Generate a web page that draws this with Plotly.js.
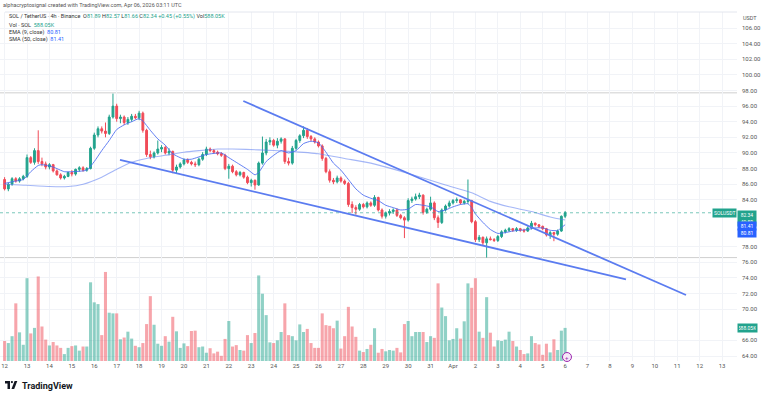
<!DOCTYPE html>
<html>
<head>
<meta charset="utf-8">
<script src="https://cdn.plot.ly/plotly-3.0.1.min.js"></script>
<style>html,body{margin:0;padding:0;background:#fff;}#chart{width:768px;height:398px;}</style>
</head>
<body>
<div id="chart"></div>
<script>
// ---------- DATA (4h candles, SOL/USDT, from Mar 12 00:00 UTC) ----------
const OPEN = [86.6,85.4,86.0,86.7,86.4,86.7,87.0,89.4,88.8,90.3,88.9,88.6,88.2,88.5,87.7,87.2,86.8,87.0,87.5,87.3,87.9,88.1,87.8,88.0,90.6,92.3,93.1,92.8,92.5,94.6,96.0,94.4,94.6,93.9,94.3,94.7,94.5,95.1,92.9,89.8,89.5,90.0,90.5,90.7,90.0,90.2,87.8,88.2,88.6,89.1,88.8,88.6,88.5,89.2,89.8,90.5,90.3,90.1,89.9,89.7,88.0,88.3,87.6,87.2,87.5,86.9,86.2,86.5,85.9,88.7,90.0,91.4,91.6,91.0,91.5,91.8,88.9,88.7,90.6,91.6,92.2,92.9,92.1,91.8,91.4,90.9,89.3,87.6,86.5,86.3,86.8,86.4,86.1,83.4,83.0,82.8,83.4,83.1,83.6,83.3,84.3,82.7,81.9,82.3,82.5,82.7,82.0,81.7,81.4,83.9,84.1,84.4,84.6,82.4,82.8,83.6,81.7,81.1,82.7,83.2,83.6,83.9,84.0,83.6,83.8,83.9,81.2,78.9,79.2,78.5,79.0,78.9,78.8,79.3,79.9,80.1,80.3,80.1,80.3,80.1,80.0,80.4,81.0,80.8,80.6,80.3,79.5,79.8,79.6,80.0,81.89];
const HIGH = [86.9,86.2,86.9,86.9,86.9,87.2,89.8,89.6,90.6,92.9,89.4,88.9,88.7,88.6,87.9,87.4,87.2,87.6,87.8,88.0,88.3,88.3,88.2,90.8,92.6,93.4,93.4,93.9,94.9,97.6,96.3,94.9,94.8,94.6,95.0,95.0,95.4,95.3,93.1,90.3,90.2,91.6,91.0,90.9,90.6,90.3,88.5,88.8,89.3,89.3,89.0,88.9,89.4,90.1,90.8,90.7,90.5,90.3,90.1,89.9,88.6,88.5,87.8,87.7,87.6,87.1,86.7,86.6,88.9,92.1,91.8,92.0,91.8,91.9,92.0,91.9,89.4,90.9,91.8,92.4,93.4,93.2,92.3,92.0,91.6,91.1,89.5,87.9,86.8,87.1,87.0,86.6,86.3,83.8,83.3,83.6,83.6,83.8,83.8,84.6,84.4,82.9,82.5,82.8,82.9,82.9,82.2,81.9,84.2,84.4,84.8,84.9,84.7,83.0,84.4,83.8,82.0,82.9,83.4,83.9,84.1,84.3,84.1,84.0,86.6,84.0,81.4,79.5,79.3,79.3,79.3,79.1,79.5,80.1,80.3,80.5,80.4,80.5,80.4,80.3,80.6,81.3,81.1,80.9,80.7,80.4,80.0,79.9,80.2,82.0,82.57];
const LOW  = [85.2,85.1,85.8,86.2,86.2,86.5,86.8,88.6,88.5,88.6,88.3,87.9,87.9,87.5,87.1,86.6,86.6,86.9,87.0,87.1,87.6,87.6,87.6,87.9,90.4,92.0,92.5,92.0,92.3,94.4,94.0,93.8,93.6,93.6,94.0,94.3,94.2,92.6,89.5,89.2,89.3,89.8,90.1,89.8,89.7,87.4,87.3,88.0,88.4,88.6,88.4,88.2,88.3,89.0,89.6,90.1,89.9,89.7,89.5,87.8,86.7,87.4,87.0,87.0,86.7,86.0,85.7,85.3,85.8,88.5,89.7,91.0,90.8,90.6,91.2,88.6,88.4,88.5,90.4,91.3,91.9,91.8,91.5,91.2,90.7,89.0,87.4,86.2,86.0,86.1,86.2,85.9,83.1,82.3,82.1,82.6,82.9,82.9,83.1,83.1,82.5,81.6,81.6,82.0,82.2,81.8,81.5,79.1,81.2,83.6,83.9,84.1,82.1,82.2,82.6,81.4,80.4,80.9,82.5,83.0,83.4,83.6,83.4,83.4,83.5,81.0,78.6,78.6,78.2,76.6,78.8,78.6,78.6,79.1,79.7,79.9,79.9,79.9,79.9,79.8,79.9,80.2,80.6,80.4,80.1,79.3,79.0,78.7,79.4,79.9,81.66];
const CLOSE= [85.4,86.0,86.7,86.4,86.7,87.0,89.4,88.8,90.3,88.9,88.6,88.2,88.5,87.7,87.2,86.8,87.0,87.5,87.3,87.9,88.1,87.8,88.0,90.6,92.3,93.1,92.8,92.5,94.6,96.0,94.4,94.6,93.9,94.3,94.7,94.5,95.1,92.9,89.8,89.5,90.0,90.5,90.7,90.0,90.2,87.8,88.2,88.6,89.1,88.8,88.6,88.5,89.2,89.8,90.5,90.3,90.1,89.9,89.7,88.0,88.3,87.6,87.2,87.5,86.9,86.2,86.5,85.9,88.7,90.0,91.4,91.6,91.0,91.5,91.8,88.9,88.7,90.6,91.6,92.2,92.9,92.1,91.8,91.4,90.9,89.3,87.6,86.5,86.3,86.8,86.4,86.1,83.4,83.0,82.8,83.4,83.1,83.6,83.3,84.3,82.7,81.9,82.3,82.5,82.7,82.0,81.7,81.4,83.9,84.1,84.4,84.6,82.4,82.8,83.6,81.7,81.1,82.7,83.2,83.6,83.9,84.0,83.6,83.8,83.9,81.2,78.9,79.2,78.5,79.0,78.9,78.8,79.3,79.9,80.1,80.3,80.1,80.3,80.1,80.0,80.4,81.0,80.8,80.6,80.3,79.5,79.8,79.6,80.0,81.89,82.34];
// volume in thousands of SOL
const VOLUME_K = [355,319,441,1024,509,288,1471,490,588,1502,
613,380,276,337,276,233,123,233,264,276,
184,257,257,1398,1042,1011,460,1582,858,846,
846,386,417,521,398,270,245,319,656,1152,
644,307,270,441,343,785,527,233,313,264,
533,539,245,257,147,227,135,166,92,392,
711,257,282,196,184,460,319,497,1520,1195,
815,331,319,368,515,1024,460,441,368,650,
515,570,319,233,233,846,637,625,582,717,
221,441,962,613,429,184,159,214,288,582,
147,214,172,196,184,233,153,656,711,441,
515,515,515,337,441,411,1379,950,797,368,
392,582,398,705,1379,1300,1471,521,411,1134,
503,257,368,355,380,521,355,257,196,123,
135,441,319,294,110,307,153,386,196,539,
588.05];
// indicator readings (candle index, value)
const EMA_IDX = [0,3,5,7,9,10,13,16,18,22,24,26,28,30,32,34,36,37,39,41,43,45,48,50,54,58,60,62,65,67,68,70,72,74,76,78,80,82,84,86,88,90,92,94,96,98,100,102,104,106,108,110,112,114,116,118,120,122,124,125,126,128,130,132,134,136,138,140,142,144,146,148,149,150];
const EMA_VAL = [86.1,86.4,86.6,87.6,88.4,88.5,88.2,87.6,87.6,87.8,88.9,90.3,91.6,93.0,93.6,94.0,94.4,94.1,92.9,91.8,91.0,89.9,89.2,89.2,89.8,90.0,89.4,88.8,87.9,87.2,87.5,88.9,89.7,90.3,90.0,90.3,91.2,91.5,91.3,90.1,88.7,87.8,86.6,85.4,84.6,84.2,83.9,83.3,83.0,82.7,82.8,83.4,83.3,83.1,82.5,82.7,83.1,83.4,83.5,83.0,82.2,81.1,80.2,79.7,79.8,80.0,80.1,80.2,80.4,80.4,80.1,80.06,80.43,80.81];
const SMA_IDX = [0,4,12,17,21,26,30,34,38,43,48,52,57,61,68,76,84,91,98,105,112,118,125,130,135,141,146,150];
const SMA_VAL = [86.0,85.9,85.7,85.7,86.0,86.9,87.9,88.8,89.3,89.7,90.1,90.3,90.5,90.5,90.4,90.2,89.9,89.3,88.7,87.8,86.8,85.9,84.9,83.8,83.1,82.5,81.8,81.41];
// drawn trend lines and horizontal levels
const TREND_START_T = ['2026-03-22 15:32','2026-03-17 03:32'];
const TREND_START_P = [96.65, 89.10];
const TREND_END_T   = ['2026-04-11 09:26','2026-04-08 17:11'];
const TREND_END_P   = [71.81, 73.82];
const LEVELS = [97.7, 76.6];
const LAST_PRICE = 82.34, LAST_EMA = 80.81, LAST_SMA = 81.41, LAST_VOL = '588.05K';
// axis labels (ticks hidden under the price/volume tags are left out)
const X_TICK_TEXT = ['12','13','14','15','16','17','18','19','20','21','22','23','24','25','26','27','28','29','30','31','Apr','2','3','4','5','6','7','8','9','10','11','12','13'];
const Y_TICKS = [64,66,70,72,74,76,78,84,86,88,90,92,94,96,98,100,102,104,106];

// ---------- helpers ----------
const START = Date.UTC(2026, 2, 12, 0, 0);
function fmt(ms){ return new Date(ms).toISOString().slice(0,16).replace('T',' '); }
function idxDate(i){ return fmt(START + i*4*3600*1000); }
const X = CLOSE.map((_, i) => idxDate(i));
const tickVals = X_TICK_TEXT.map((_, k) => fmt(START + k*86400000));

const GREEN = '#22a38d', RED = '#f04b58', BLUE = '#2962ff', LINEBLUE = '#5b7cf0';
const volColors = CLOSE.map((c, i) => c >= OPEN[i] ? 'rgba(34,163,141,0.5)' : 'rgba(240,75,88,0.5)');

const FONT = 'Roboto, "Noto Sans", sans-serif';
const W = 737, T = 12, H = 349;
const px = v => v / W;
const py = v => (T + H - v) / H;

const traces = [
  {type:'bar', x:X, y:VOLUME_K, yaxis:'y2', marker:{color:volColors, line:{width:0}}, hoverinfo:'skip', showlegend:false},
  {type:'candlestick', x:X, open:OPEN, high:HIGH, low:LOW, close:CLOSE,
   increasing:{line:{color:GREEN, width:1}, fillcolor:GREEN},
   decreasing:{line:{color:RED, width:1}, fillcolor:RED},
   whiskerwidth:0, hoverinfo:'skip', showlegend:false},
  {type:'scatter', mode:'lines', x:SMA_IDX.map(idxDate), y:SMA_VAL, line:{color:'rgba(91,124,240,0.55)', width:1.1, shape:'spline', smoothing:0.6}, hoverinfo:'skip', showlegend:false},
  {type:'scatter', mode:'lines', x:EMA_IDX.map(idxDate), y:EMA_VAL, line:{color:'rgba(70,105,240,0.85)', width:1, shape:'spline', smoothing:0.5}, hoverinfo:'skip', showlegend:false}
];

const shapes = [
  {type:'line', xref:'paper', yref:'paper', x0:px(5), x1:1, y0:1, y1:1, line:{color:'#e3e6ee', width:1}},
  ...LEVELS.map(l => ({type:'line', xref:'paper', yref:'y', x0:0, x1:1, y0:l, y1:l, line:{color:'#cfcfcf', width:1}, layer:'below'})),
  {type:'line', xref:'paper', yref:'y', x0:0, x1:1, y0:LAST_PRICE, y1:LAST_PRICE, line:{color:'rgba(34,163,141,0.6)', width:1, dash:'dot'}},
  ...TREND_START_T.map((t, k) => ({type:'line', xref:'x', yref:'y', x0:t, y0:TREND_START_P[k], x1:TREND_END_T[k], y1:TREND_END_P[k], line:{color:LINEBLUE, width:1.8}})),
  {type:'circle', xref:'x', xsizemode:'pixel', xanchor:'2026-04-06 02:00', x0:-4.5, x1:4.5,
   yref:'paper', ysizemode:'pixel', yanchor:py(357), y0:-4.5, y1:4.5, line:{color:'#9c27b0', width:1}, fillcolor:'#f6e8f8'},
  // TradingView logo mark
  {type:'rect', xref:'paper', yref:'paper', x0:px(5), x1:px(10), y0:py(383.5), y1:py(381), fillcolor:'#131722', line:{width:0}},
  {type:'rect', xref:'paper', yref:'paper', x0:px(7.5), x1:px(10), y0:py(389), y1:py(381), fillcolor:'#131722', line:{width:0}},
  {type:'circle', xref:'paper', yref:'paper', x0:px(10.8), x1:px(13), y0:py(383.2), y1:py(381), fillcolor:'#131722', line:{width:0}},
  {type:'path', xref:'paper', yref:'paper', path:`M ${px(11.5)},${py(389)} L ${px(14.2)},${py(389)} L ${px(17.3)},${py(381)} L ${px(14.6)},${py(381)} Z`, fillcolor:'#131722', line:{width:0}}
];

const g = s => `<span style="color:${GREEN}">${s}</span>`;
const b = s => `<span style="color:${BLUE}">${s}</span>`;
const hdr = (text, y, x, size, color) => ({xref:'paper', yref:'paper', x:x, y:y, xanchor:'left', yanchor:'middle', showarrow:false, text:text, font:{family:FONT, size:size, color:color}});
const box = (text, yref, y, xanchor, bg, shift, width, yanchor) => ({xref:'paper', x:1, yref:yref, y:y, xanchor:xanchor, yanchor:yanchor||'middle', yshift:shift, showarrow:false, text:text, bgcolor:bg, borderpad:1, width:width, align:'center', font:{family:FONT, size:5, color:'#ffffff'}});

const annotations = [
  hdr('alphacryptosignal created with TradingView.com, Apr 06, 2026 03:11 UTC', py(5), px(1), 5.5, '#555'),
  hdr(`SOL / TetherUS · 4h · Binance&nbsp; O${g('81.89')} H${g('82.57')} L${g('81.66')} C${g('82.34')} ${g('+0.45 (+0.55%)')} Vol${g(LAST_VOL)}`, py(16.5), px(7), 5.5, '#333'),
  hdr(`Vol · SOL&nbsp; ${g(LAST_VOL)}`, py(24.5), px(7), 5.5, '#333'),
  hdr(`EMA (9, close)&nbsp; ${b(LAST_EMA.toFixed(2))}`, py(32.5), px(7), 5.5, '#333'),
  hdr(`SMA (50, close)&nbsp; ${b(LAST_SMA.toFixed(2))}`, py(40), px(7), 5.5, '#333'),
  {xref:'paper', yref:'paper', x:1, xshift:4, y:py(18), xanchor:'left', yanchor:'middle', showarrow:false, text:'USDT', font:{family:FONT, size:5.5, color:'#555'}},
  box('SOLUSDT', 'y', LAST_PRICE, 'right', GREEN, 0, null),
  box(LAST_PRICE.toFixed(2) + '<br>49:50', 'y', LAST_PRICE, 'left', GREEN, 2.8, 16, 'top'),
  box(LAST_SMA.toFixed(2), 'y', LAST_SMA, 'left', BLUE, -5.6, 16),
  box(LAST_EMA.toFixed(2), 'y', LAST_EMA, 'left', BLUE, -7.8, 16),
  box(LAST_VOL, 'y2', VOLUME_K[VOLUME_K.length-1], 'left', GREEN, 0, 17),
  {xref:'x', x:'2026-04-06 02:00', yref:'paper', y:py(357), showarrow:false, text:'+', font:{family:FONT, size:6, color:'#9c27b0'}, xanchor:'center', yanchor:'middle'},
  {xref:'paper', yref:'paper', x:px(20), y:py(385.5), xanchor:'left', yanchor:'middle', showarrow:false, text:'<b>TradingView</b>', font:{family:FONT, size:9, color:'#131722'}}
];

const layout = {
  width:768, height:398,
  margin:{l:0, r:31, t:12, b:37},
  paper_bgcolor:'#ffffff', plot_bgcolor:'#ffffff',
  showlegend:false, bargap:0.18, dragmode:false,
  xaxis:{type:'date', range:['2026-03-11 19:05','2026-04-13 16:00'], tickvals:tickVals, ticktext:X_TICK_TEXT,
         showgrid:true, gridcolor:'#f1f3f7', gridwidth:1, zeroline:false, showline:false, ticks:'',
         tickfont:{family:FONT, size:6, color:'#555'}, rangeslider:{visible:false}, fixedrange:true},
  yaxis:{side:'right', range:[63.36, 108.05], tickvals:Y_TICKS, tickformat:'.2f', showgrid:true, gridcolor:'#f1f3f7',
         zeroline:false, showline:false, ticks:'', ticklabelstandoff:4, tickfont:{family:FONT, size:6, color:'#555'}, fixedrange:true},
  yaxis2:{overlaying:'y', range:[0, 6200], visible:false, showgrid:false, fixedrange:true},
  shapes:shapes, annotations:annotations
};

Plotly.newPlot('chart', traces, layout, {staticPlot:true, displayModeBar:false});
</script>
</body>
</html>
